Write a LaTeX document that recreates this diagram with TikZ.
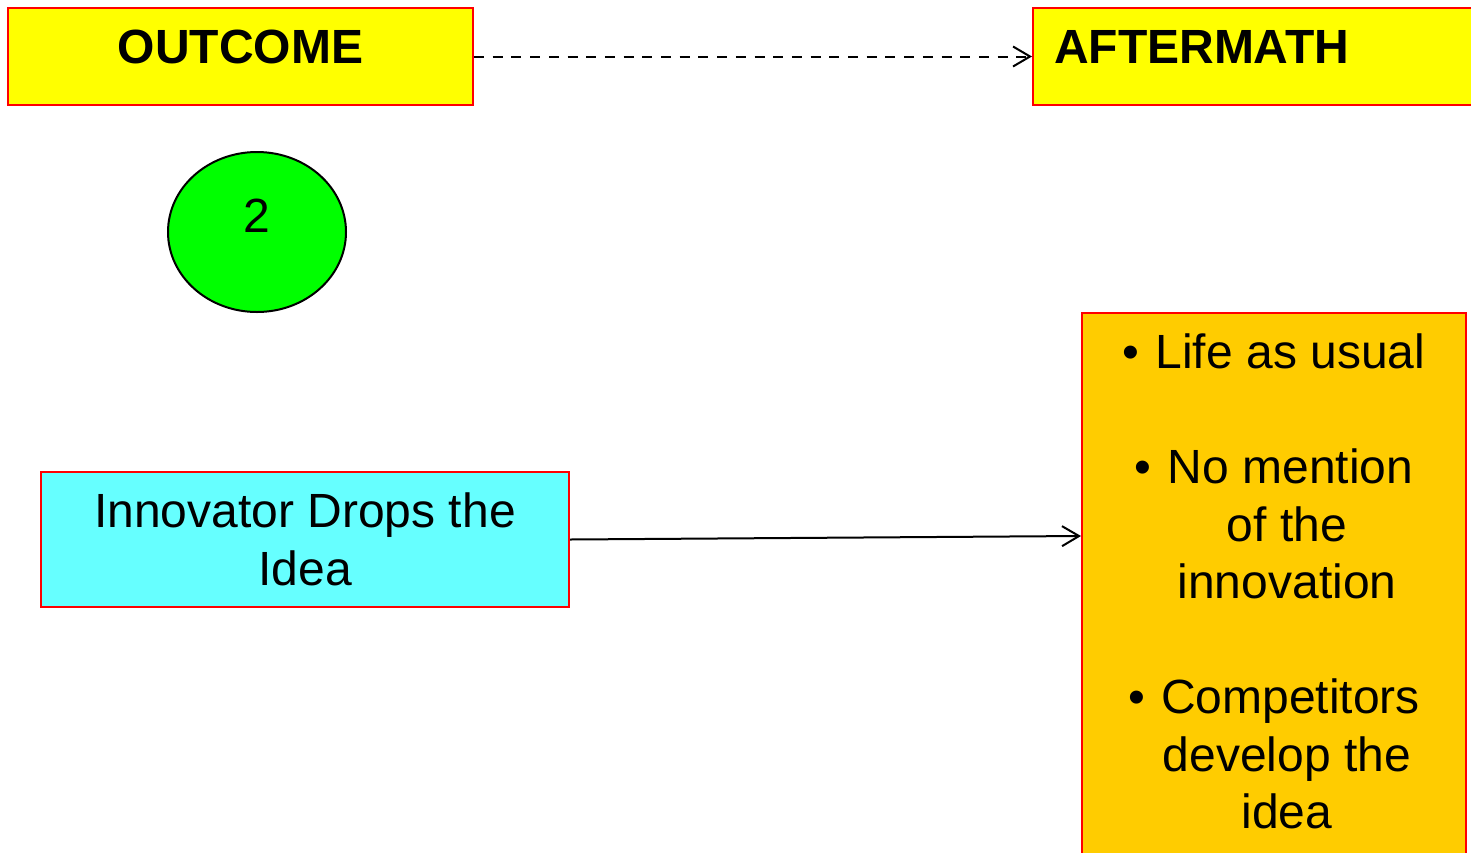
\documentclass[tikz,border=0pt]{standalone}
\usepackage{fontspec}
\setmainfont{Liberation Sans}
\usetikzlibrary{arrows.meta,shapes.geometric}
\definecolor{headyellow}{HTML}{FFFF00}
\definecolor{stepcyan}{HTML}{66FFFF}
\definecolor{countgreen}{HTML}{00FF00}
\definecolor{resultorange}{HTML}{FFCC00}
\tikzset{
    head-box/.style = {draw=red, fill=headyellow, line width=2pt, rectangle, minimum height=97pt, text depth=19pt, font=\fontsize{48}{57.5}\selectfont\bfseries},
    step-box/.style = {draw=red, fill=stepcyan, line width=2pt, rectangle, align=center, font=\fontsize{48}{57.5}\selectfont},
    result-box/.style = {draw=red, fill=resultorange, line width=2pt, rectangle},
    result-text/.style = {inner sep=0pt, align=center, font=\fontsize{48}{57.5}\selectfont},
    count-disc/.style = {draw, fill=countgreen, line width=2pt, ellipse, minimum width=178pt, minimum height=160pt, text depth=32pt, font=\fontsize{48}{57.5}\selectfont},
    tip/.style = {-{Straight Barb[length=17pt,width=20pt]}, line width=2pt},
}

\begin{document}
\begin{tikzpicture}[x=1pt, y=-1pt]
\clip (0,0) rectangle (1471,852);
\node [head-box, minimum width=465pt] (outcome) at (240.5,56.5) {OUTCOME};
\node [head-box, anchor=west, inner xsep=21pt, text width=438pt, align=left] (aftermath) at (1032,56.5) {AFTERMATH};
\draw [tip, dash pattern=on 10pt off 8.7pt] (outcome) -- (aftermath);

\node [count-disc] (count) at (257,232) {2};

\node [step-box, minimum width=528pt, minimum height=135pt] (dropidea) at (305,539.5) {Innovator Drops the\\Idea};
\node [result-box, anchor=north west, minimum width=384pt, minimum height=600pt] (effects) at (1081,312) {};
\node [result-text, anchor=north] (effectslist) at ([yshift=-22pt]effects.north) {%
    \textbullet\hspace{16pt}Life as usual\\[57.5pt]
    \textbullet\hspace{16pt}No mention\\
    \hspace*{26pt}of the\\
    \hspace*{26pt}innovation\\[57.5pt]
    \textbullet\hspace{16pt}Competitors\\
    \hspace*{26pt}develop the\\
    \hspace*{26pt}idea};
\draw [tip] (dropidea.east) -- ([yshift=-224pt]effects.north west);
\end{tikzpicture}
\end{document}
